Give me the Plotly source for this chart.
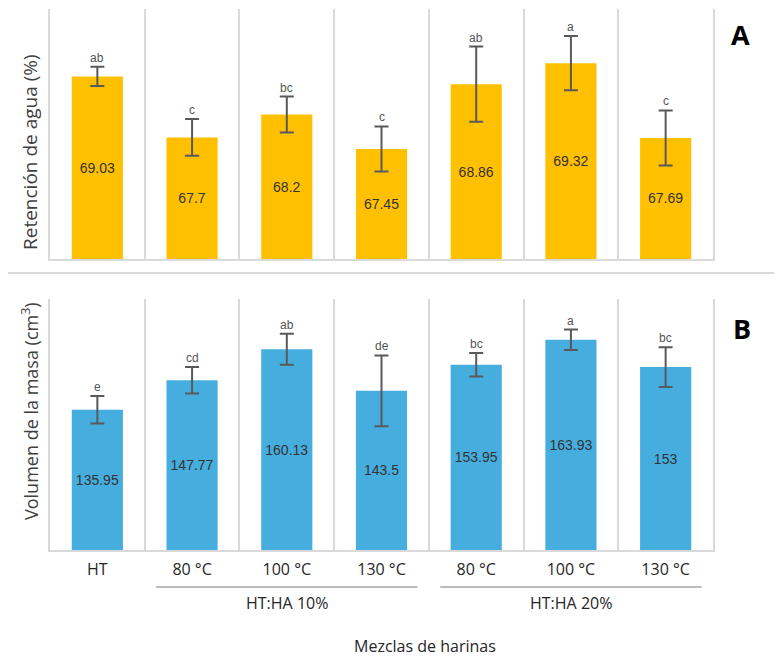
import plotly.graph_objects as go

categories = ["HT", "80 °C", "100 °C", "130 °C", "80 °C", "100 °C", "130 °C"]
groups = [("HT:HA 10%", 1, 3), ("HT:HA 20%", 4, 6)]

retencion = [69.03, 67.7, 68.2, 67.45, 68.86, 69.32, 67.69]
retencion_err = [0.21, 0.40, 0.39, 0.49, 0.82, 0.59, 0.60]
retencion_letters = ["ab", "c", "bc", "c", "ab", "a", "c"]
retencion_range = [65.05, 70.5]

volumen = [135.95, 147.77, 160.13, 143.5, 153.95, 163.93, 153]
volumen_err = [5.5, 5.3, 6.2, 14.2, 4.7, 4.1, 8.0]
volumen_letters = ["e", "cd", "ab", "de", "bc", "a", "bc"]
volumen_range = [79.7, 180.3]

xs = list(range(len(categories)))

ORANGE = "#FFC000"
BLUE = "#46AEDF"
GRID = "#D9D9D9"
ERR = "#595959"
TXT = "#404040"
LABEL_FONT = "Liberation Sans, Arial"
TITLE_FONT = "Open Sans"

W, H = 782, 656
OFF = 8  # page body margin


def fx(px):
    return (px - OFF) / W


def fy(py):
    return 1 - (py - OFF) / H


fig = go.Figure()


def bar(y, err, base, color, xa, ya):
    return go.Bar(
        x=xs, y=[v - base for v in y], base=base,
        marker=dict(color=color, line=dict(width=0)), width=0.54,
        error_y=dict(type="data", array=err, color=ERR, thickness=2, width=7),
        text=[str(v) for v in y], textposition="inside", insidetextanchor="middle",
        textfont=dict(family=LABEL_FONT, size=14, color="#333333"),
        textangle=0, xaxis=xa, yaxis=ya, showlegend=False, hoverinfo="skip",
    )


fig.add_trace(bar(retencion, retencion_err, retencion_range[0], ORANGE, "x", "y"))
fig.add_trace(bar(volumen, volumen_err, volumen_range[0], BLUE, "x2", "y2"))

common_x = dict(
    range=[-0.5, 6.5], domain=[fx(50), fx(713)], showgrid=False, zeroline=False,
    showline=True, linecolor=GRID, linewidth=2,
    minor=dict(tick0=0.5, dtick=1, showgrid=True, gridcolor=GRID, gridwidth=2, ticks=""),
    fixedrange=True,
)
common_y = dict(showgrid=False, zeroline=False, showticklabels=False, ticks="",
                showline=True, mirror=True, linecolor=GRID, linewidth=2, fixedrange=True)
fig.update_layout(
    width=W, height=H, autosize=False,
    margin=dict(l=0, r=0, t=0, b=0),
    plot_bgcolor="white", paper_bgcolor="white",
    xaxis=dict(**common_x, anchor="y", showticklabels=False, ticks=""),
    xaxis2=dict(**common_x, anchor="y2", tickmode="array", tickvals=xs, ticktext=categories,
                ticks="", ticklabelstandoff=4,
                tickfont=dict(family=TITLE_FONT, size=16, color="#262626")),
    yaxis=dict(domain=[fy(259), fy(9)], range=retencion_range, **common_y),
    yaxis2=dict(domain=[fy(550), fy(299)], range=volumen_range, **common_y),
)

ann = []
for i in xs:
    ann.append(dict(x=i, y=retencion[i] + retencion_err[i], xref="x", yref="y", text=retencion_letters[i],
                    showarrow=False, yanchor="bottom", xanchor="center", yshift=0,
                    font=dict(family=LABEL_FONT, size=12, color="#555555")))
    ann.append(dict(x=i, y=volumen[i] + volumen_err[i], xref="x2", yref="y2", text=volumen_letters[i],
                    showarrow=False, yanchor="bottom", xanchor="center", yshift=0,
                    font=dict(family=LABEL_FONT, size=12, color="#555555")))


def label(x, y, text, size, color="#262626", angle=0, family=TITLE_FONT):
    return dict(x=fx(x), y=fy(y), xref="paper", yref="paper", text=text, textangle=angle,
                showarrow=False, xanchor="center", yanchor="middle",
                font=dict(family=family, size=size, color=color))


ann.append(label(30, 152, "Retención de agua (%)", 19, TXT, -90))
ann.append(label(30, 411, "Volumen de la masa (cm<sup>3</sup>)", 18, TXT, -90))
ann.append(label(740, 34, "<b>A</b>", 27, "black"))
ann.append(label(742, 328, "<b>B</b>", 27, "black"))
ann.append(label(425, 646, "Mezclas de harinas", 16))

shapes = [dict(type="line", xref="paper", yref="paper", x0=fx(5), x1=1, y0=fy(273), y1=fy(273),
               line=dict(color=GRID, width=2))]
for name, a, b in groups:
    shapes.append(dict(type="line", xref="x2", yref="paper", x0=a - 0.38, x1=b + 0.38,
                       y0=fy(587), y1=fy(587), line=dict(color="#A6A6A6", width=1.5)))
    ann.append(dict(x=(a + b) / 2, y=fy(603), xref="x2", yref="paper", text=name, showarrow=False,
                    xanchor="center", yanchor="middle",
                    font=dict(family=TITLE_FONT, size=16, color="#262626")))

fig.update_layout(annotations=ann, shapes=shapes)
fig.write_html("out.html")
